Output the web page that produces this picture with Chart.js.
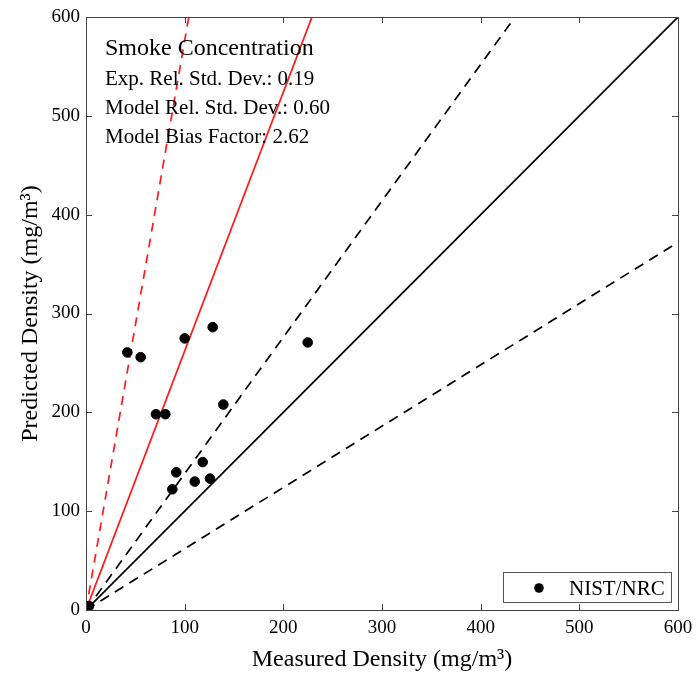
<!DOCTYPE html>
<html>
<head>
<meta charset="utf-8">
<script src="https://cdn.jsdelivr.net/npm/chart.js@4.4.1/dist/chart.umd.min.js"></script>
<style>
  html, body { margin: 0; padding: 0; background: #fff; }
  #wrap { width: 696px; height: 674px; }
</style>
</head>
<body>
<div id="wrap"><canvas id="grafico"></canvas></div>
<script>
// medidas x previstas (mg/m3)
const medido = [3, 41.9, 55.4, 100.0, 128.4, 224.7, 70.9, 80.4, 139.2, 118.3, 91.5, 87.5, 110.2, 125.7];
const previsto = [4, 260.6, 255.8, 274.8, 286.2, 270.7, 198.1, 198.1, 207.9, 149.7, 139.3, 122.1, 129.9, 132.9];

const ticksEixo = [0, 100, 200, 300, 400, 500, 600];

// retas de referencia: inclinacao, cor, tracejado
const inclinacoes = [1, 1.38, 0.62, 2.62, 5.76];
const coresRetas = ['#000', '#000', '#000', '#ff1a1a', '#ff1a1a'];
const tracos = [[], [10, 7], [10, 7], [], [9, 7]];

const textos = ['Smoke Concentration', 'Exp. Rel. Std. Dev.: 0.19', 'Model Rel. Std. Dev.: 0.60', 'Model Bias Factor: 2.62'];
const legenda = 'NIST/NRC';

const fonte = "'Liberation Serif', 'Times New Roman', serif";

const pontos = medido.map((x, i) => ({ x: x, y: previsto[i] }));

const datasetsRetas = inclinacoes.map((m, i) => ({
  type: 'line',
  data: [{ x: 0, y: 0 }, { x: 600, y: 600 * m }],
  borderColor: coresRetas[i],
  borderWidth: 1.7,
  borderDash: tracos[i],
  pointRadius: 0,
  fill: false,
  order: 2
}));

const pluginMoldura = {
  id: 'moldura',
  afterDraw(chart) {
    const ctx = chart.ctx;
    const a = chart.chartArea;
    const sx = chart.scales.x, sy = chart.scales.y;
    ctx.save();
    ctx.strokeStyle = '#444';
    ctx.lineWidth = 1;
    ctx.strokeRect(Math.round(a.left) + 0.5, Math.round(a.top) + 0.5, Math.round(a.right - a.left), Math.round(a.bottom - a.top));
    // ticks para dentro
    ticksEixo.forEach(v => {
      const px = Math.round(sx.getPixelForValue(v)) + 0.5;
      const py = Math.round(sy.getPixelForValue(v)) + 0.5;
      ctx.beginPath();
      ctx.moveTo(px, a.bottom); ctx.lineTo(px, a.bottom - 6);
      ctx.moveTo(px, a.top); ctx.lineTo(px, a.top + 6);
      ctx.moveTo(a.left, py); ctx.lineTo(a.left + 6, py);
      ctx.moveTo(a.right, py); ctx.lineTo(a.right - 6, py);
      ctx.stroke();
    });

    // textos
    ctx.fillStyle = '#000';
    ctx.textBaseline = 'alphabetic';
    ctx.textAlign = 'left';
    ctx.font = '24px ' + fonte;
    ctx.fillText(textos[0], a.left + 19, a.top + 38);
    ctx.font = '21px ' + fonte;
    ctx.fillText(textos[1], a.left + 19, a.top + 67.5);
    ctx.fillText(textos[2], a.left + 19, a.top + 96.5);
    ctx.fillText(textos[3], a.left + 19, a.top + 125.5);

    // legenda
    const lx = 503, ly = 572, lw = 168, lh = 30;
    ctx.strokeStyle = '#555';
    ctx.strokeRect(lx + 0.5, ly + 0.5, lw, lh);
    ctx.beginPath();
    ctx.arc(lx + 36, ly + 16, 4.8, 0, Math.PI * 2);
    ctx.fill();
    ctx.font = '21px ' + fonte;
    ctx.fillText(legenda, lx + 66, ly + 23);
    ctx.restore();
  }
};

new Chart(document.getElementById('grafico'), {
  type: 'scatter',
  data: {
    datasets: [{
      label: legenda,
      data: pontos,
      backgroundColor: '#000',
      borderColor: '#000',
      pointRadius: 4.8,
      pointHoverRadius: 4.8,
      clip: 0,
      order: 1
    }, ...datasetsRetas]
  },
  options: {
    responsive: true,
    maintainAspectRatio: false,
    animation: false,
    layout: { padding: { top: 17, right: 18, left: 0, bottom: 0 } },
    plugins: {
      legend: { display: false },
      tooltip: { enabled: false }
    },
    scales: {
      x: {
        type: 'linear',
        min: 0,
        max: 600,
        afterFit: s => { s.height = 64; s.paddingRight = 0; s.paddingLeft = 0; },
        afterBuildTicks: s => { s.ticks = ticksEixo.map(v => ({ value: v })); },
        grid: { display: false, drawTicks: false },
        border: { display: false },
        ticks: { color: '#000', font: { family: fonte, size: 19 }, padding: 7 },
        title: { display: true, text: 'Measured Density (mg/m³)', color: '#000', font: { family: fonte, size: 24 }, padding: { top: 0, bottom: 0 } }
      },
      y: {
        type: 'linear',
        min: 0,
        max: 600,
        afterFit: s => { s.width = 86; s.paddingTop = 0; s.paddingBottom = 0; },
        afterBuildTicks: s => { s.ticks = ticksEixo.map(v => ({ value: v })); },
        grid: { display: false, drawTicks: false },
        border: { display: false },
        ticks: { color: '#000', font: { family: fonte, size: 19 }, padding: 6 },
        title: { display: true, text: 'Predicted Density (mg/m³)', color: '#000', font: { family: fonte, size: 24 }, padding: { top: 16.5, bottom: 0 } }
      }
    }
  },
  plugins: [pluginMoldura]
});
</script>
</body>
</html>
